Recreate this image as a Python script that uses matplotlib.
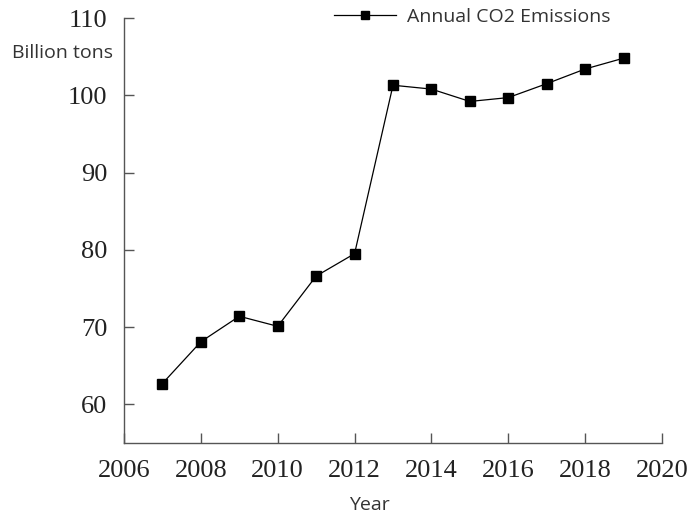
import matplotlib.pyplot as plt

years = [2007, 2008, 2009, 2010, 2011, 2012, 2013, 2014, 2015, 2016, 2017, 2018, 2019]
emissions = [62.7, 68.1, 71.4, 70.1, 76.6, 79.5, 101.3, 100.8, 99.2, 99.7, 101.5, 103.4, 104.8]
x_ticks = [2006, 2008, 2010, 2012, 2014, 2016, 2018, 2020]
y_ticks = [60, 70, 80, 90, 100, 110]

sans = ['Open Sans', 'DejaVu Sans']
serif = ['Liberation Serif', 'DejaVu Serif']

fig = plt.figure(figsize=(6.91, 5.16), dpi=100)
ax = fig.add_axes([124/691, 73/516, 538/691, 425/516])

ax.plot(years, emissions, color='black', lw=0.9, marker='s', ms=7.5,
        markerfacecolor='black', markeredgecolor='black', label='Annual CO2 Emissions')

ax.set_xlim(2006, 2020)
ax.set_ylim(55, 110)
ax.set_xticks(x_ticks)
ax.set_yticks(y_ticks)

for s in ['top', 'right']:
    ax.spines[s].set_visible(False)
for s in ['left', 'bottom']:
    ax.spines[s].set_color('#555555')
    ax.spines[s].set_linewidth(1.0)

ax.tick_params(direction='in', length=7, width=1.0, color='#555555', pad=12)
for lab in ax.get_xticklabels() + ax.get_yticklabels():
    lab.set_family(serif)
    lab.set_fontsize(19)
    lab.set_color('#222222')

fig.text(62/691, 1 - 53/516, 'Billion tons', family=sans, fontsize=14, color='#333333',
         ha='center', va='center')
fig.text(369/691, 1 - 505/516, 'Year', family=sans, fontsize=14, color='#333333',
         ha='center', va='center')

leg = ax.legend(loc='center left', bbox_to_anchor=(334/691, 1 - 17/516),
                bbox_transform=fig.transFigure, frameon=False, handlelength=3.2,
                handletextpad=0.55, borderpad=0, borderaxespad=0, markerscale=0.75,
                prop={'family': sans, 'size': 14})
for t in leg.get_texts():
    t.set_color('#333333')

fig.savefig('out.png', dpi=100)
